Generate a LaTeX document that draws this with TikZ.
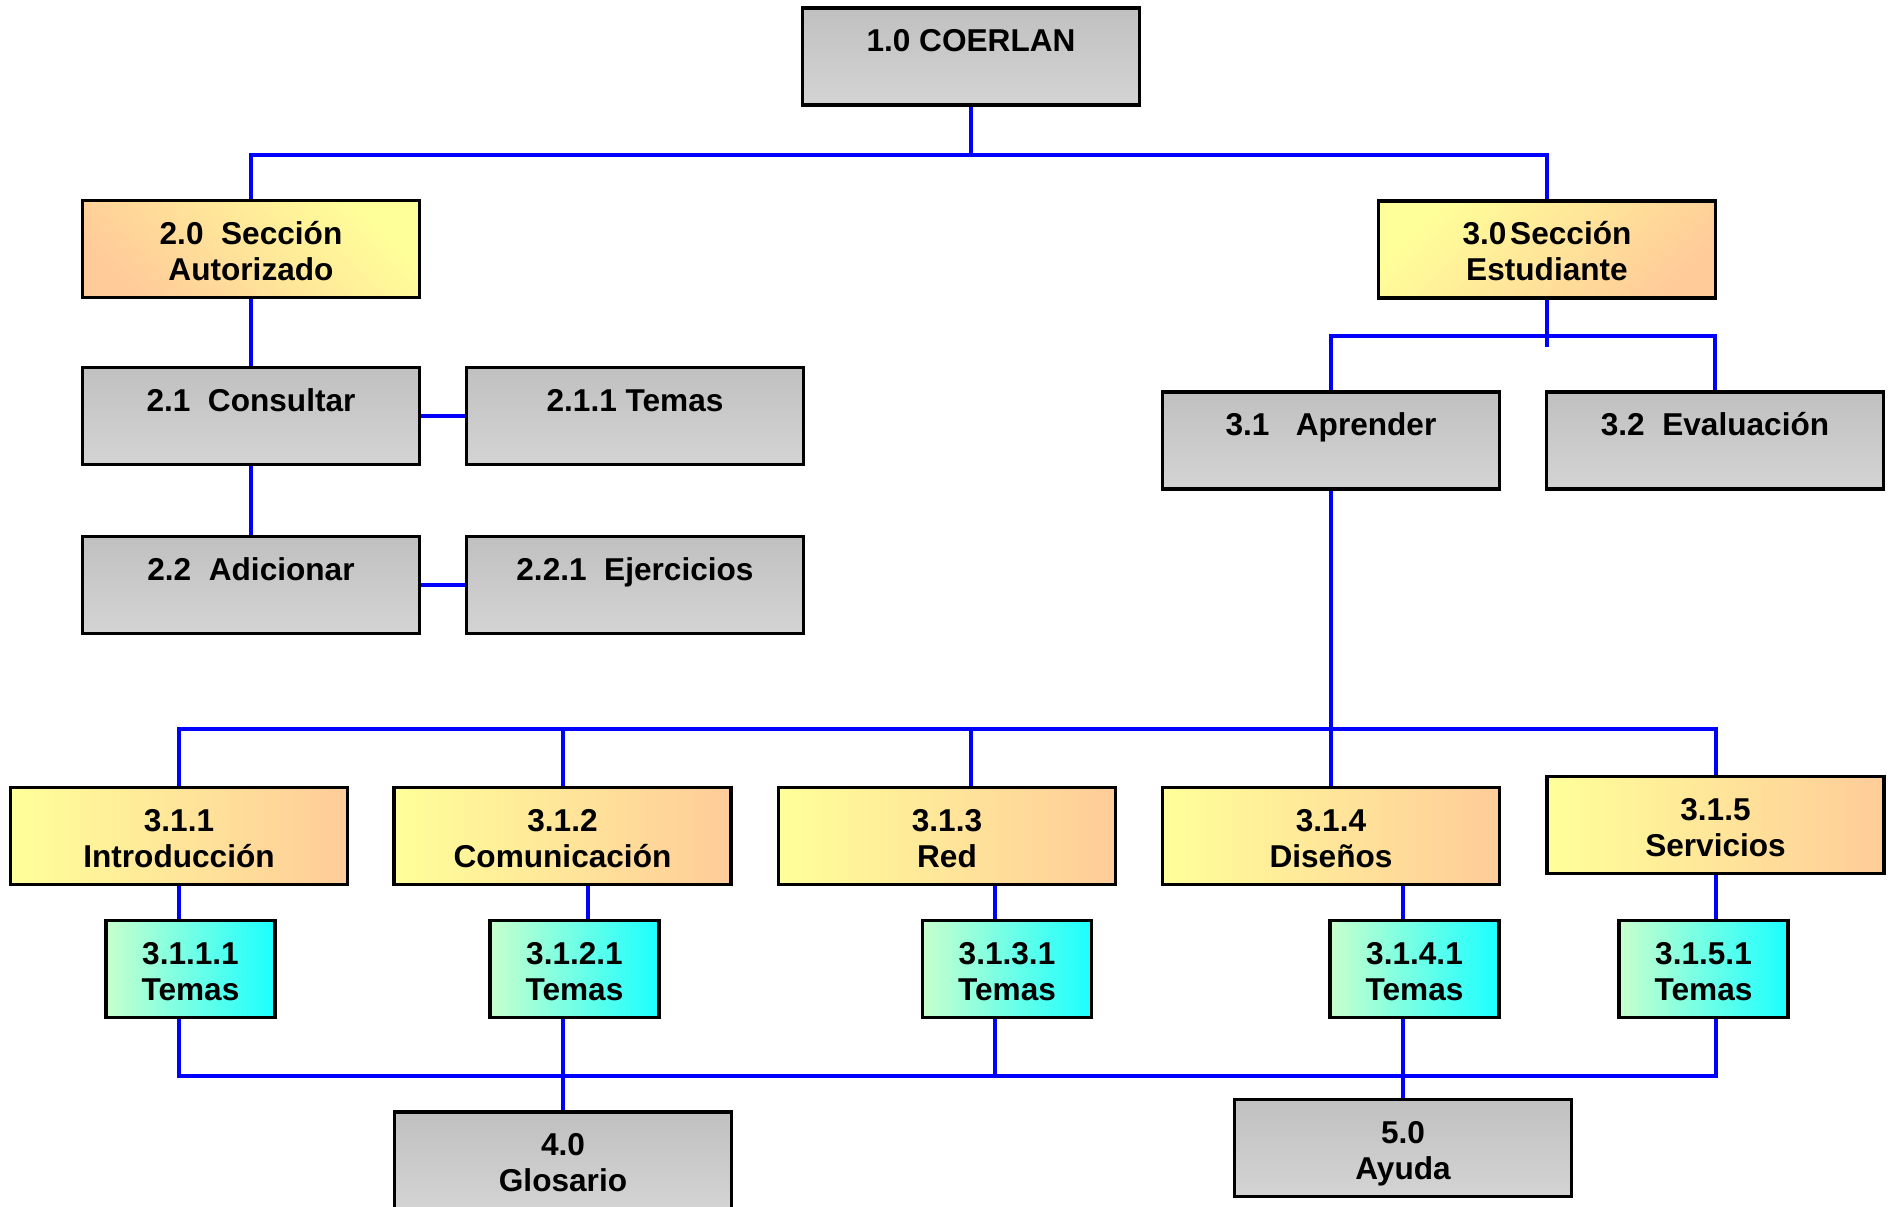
\documentclass[tikz,border=0pt]{standalone}
\usepackage{fontspec}
\setmainfont{Liberation Sans}
\usetikzlibrary{calc}
\definecolor{wireblue}{RGB}{0,0,255}
\definecolor{yel}{RGB}{255,255,153}
\definecolor{peach}{RGB}{255,204,153}
\definecolor{mint}{RGB}{200,255,204}
\definecolor{aqua}{RGB}{26,255,255}
\definecolor{gtop}{RGB}{192,192,192}
\definecolor{gbot}{RGB}{212,212,212}
\pgfdeclarelayer{bg}
\pgfsetlayers{bg,main}
\begin{document}
\begin{tikzpicture}[x=0.5pt,y=-0.5pt,
  box/.style={draw=black,line width=1.6pt,inner sep=0pt,align=center,
    font=\bfseries\fontsize{15.8}{18}\selectfont,minimum height=48.5pt,
    text height=32pt,text depth=1pt},
  wide/.style={box,minimum width=168.5pt},
  narrow/.style={box,minimum width=84.5pt},
  graybox/.style={wide,top color=gtop,bottom color=gbot},
  orangebox/.style={wide,left color=yel,right color=peach},
  tealbox/.style={narrow,left color=mint,right color=aqua},
  wire/.style={draw=wireblue,line width=2pt}]
\useasboundingbox (0,0) rectangle (1891,1206);

% level 1
\node[graybox] (n10) at (971,56.5) {1.0 COERLAN\\\mbox{}};
% level 2
\node[wide,top color=yel,bottom color=peach,shading angle=-45] (n20) at (251,249) {2.0\ \ Sección\\Autorizado};
\node[wide,top color=yel,bottom color=peach,shading angle=45] (n30) at (1547,249.5) {3.0\hspace{0.12em}Sección\\Estudiante};
% section 2 children
\node[graybox] (n21) at (251,416) {2.1\ \ Consultar\\\mbox{}};
\node[graybox] (n211) at (635,416) {2.1.1 Temas\\\mbox{}};
\node[graybox] (n22) at (251,585) {2.2\ \ Adicionar\\\mbox{}};
\node[graybox] (n221) at (635,585) {2.2.1\ \ Ejercicios\\\mbox{}};
% section 3 children
\node[graybox] (n31) at (1331,440.5) {3.1\ \ \ Aprender\\\mbox{}};
\node[graybox] (n32) at (1715,440.5) {3.2\ \ Evaluación\\\mbox{}};
% row 3.1.x
\node[orangebox] (n311) at (179,836) {3.1.1\\Introducción};
\node[orangebox] (n312) at (562.5,836) {3.1.2\\Comunicación};
\node[orangebox] (n313) at (947,836) {3.1.3\\Red};
\node[orangebox] (n314) at (1331,836) {3.1.4\\Diseños};
\node[orangebox] (n315) at (1715.5,825) {3.1.5\\Servicios};
% row 3.1.x.1
\node[tealbox] (n3111) at (190.5,969) {3.1.1.1\\Temas};
\node[tealbox] (n3121) at (574.5,969) {3.1.2.1\\Temas};
\node[tealbox] (n3131) at (1007,969) {3.1.3.1\\Temas};
\node[tealbox] (n3141) at (1414.5,969) {3.1.4.1\\Temas};
\node[tealbox] (n3151) at (1703.5,969) {3.1.5.1\\Temas};
% bottom
\node[graybox] (n40) at (563,1160.5) {4.0\\Glosario};
\node[graybox] (n50) at (1403,1148) {5.0\\Ayuda};

\coordinate (b4) at (0,729);
\coordinate (b5) at (0,1076);

\begin{pgfonlayer}{bg}
\fill[white] (0,0) rectangle (1891,1206);
\draw[wire] (n10.south) -- ++(0,48) coordinate (b1);
\draw[wire] (n20.north) |- (b1) -| (n30.north);
\draw[wire] (n20.south) -- (n21.north);
\draw[wire] (n21.south) -- (n22.north);
\draw[wire] (n21.east) -- (n211.west);
\draw[wire] (n22.east) -- (n221.west);
\draw[wire] (n30.south) -- ++(0,47);
\draw[wire] (n31.north) |- ($(n30.south)+(0,36)$) -| (n32.north);
\draw[wire] (n31.south) -- (n314.north);
\draw[wire] (n311.north) |- (b4 -| n315.north) -- (n315.north);
\draw[wire] (n312.north) -- (n312.north |- b4);
\draw[wire] ([xshift=12pt]n313.north) -- ([xshift=12pt]n313.north |- b4);
\draw[wire] (n311.south) -- (n311.south |- n3111.north);
\draw[wire] ([xshift=12.5pt]n312.south) -- ([xshift=12.5pt]n312.south |- n3121.north);
\draw[wire] ([xshift=-6pt]n3131.north) -- ([xshift=-6pt]n3131.north |- n313.south);
\draw[wire] ([xshift=-5.75pt]n3141.north) -- ([xshift=-5.75pt]n3141.north |- n314.south);
\draw[wire] (n315.south) -- (n315.south |- n3151.north);
\draw[wire] (n311.south |- n3111.south) |- (b5 -| n315.south) -- (n315.south |- n3151.south);
\draw[wire] (n40.north) -- (n40.north |- n3121.south);
\draw[wire] ([xshift=-6pt]n3131.south) -- ([xshift=-6pt]n3131.south |- b5);
\draw[wire] (n50.north) -- (n50.north |- n3141.south);
\end{pgfonlayer}
\end{tikzpicture}
\end{document}
